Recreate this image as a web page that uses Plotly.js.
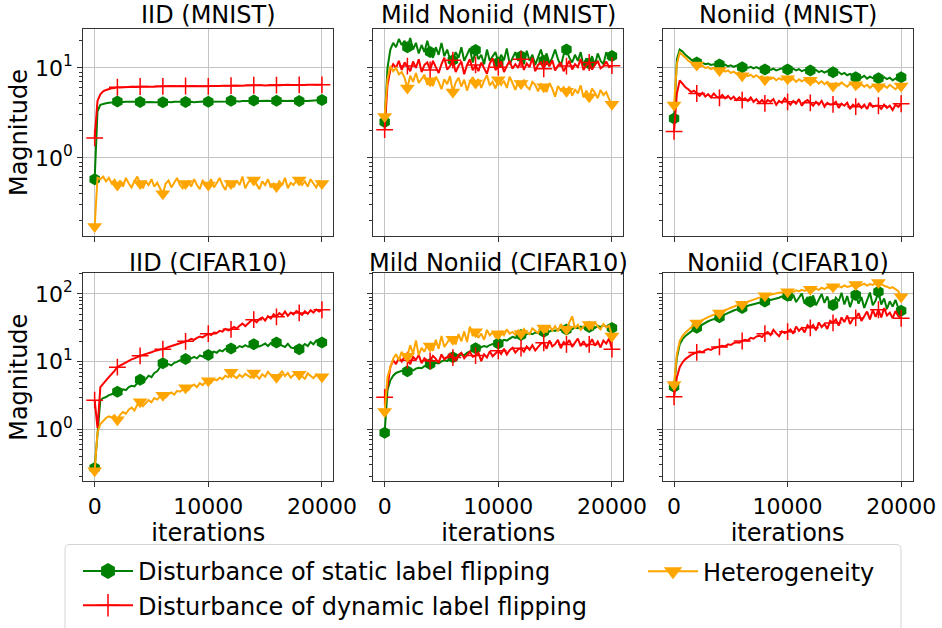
<!DOCTYPE html>
<html><head><meta charset="utf-8">
<script src="https://cdn.plot.ly/plotly-3.0.1.min.js"></script>
<style>html,body{margin:0;padding:0;background:#fff}#chart{width:942px;height:628px}</style>
</head><body><div id="chart"></div>
<script>
const iterations = [
0,250,500,750,1000,1250,1500,1750,
2000,2250,2500,2750,3000,3250,3500,3750,
4000,4250,4500,4750,5000,5250,5500,5750,
6000,6250,6500,6750,7000,7250,7500,7750,
8000,8250,8500,8750,9000,9250,9500,9750,
10000,10250,10500,10750,11000,11250,11500,11750,
12000,12250,12500,12750,13000,13250,13500,13750,
14000,14250,14500,14750,15000,15250,15500,15750,
16000,16250,16500,16750,17000,17250,17500,17750,
18000,18250,18500,18750,19000,19250,19500,19750,
20000];

const panelTitles = ['IID (MNIST)','Mild Noniid (MNIST)','Noniid (MNIST)','IID (CIFAR10)','Mild Noniid (CIFAR10)','Noniid (CIFAR10)'];
const seriesNames = ['Disturbance of static label flipping','Disturbance of dynamic label flipping','Heterogeneity'];
const xTickVals = [0,10000,20000];
const xTickText = ['0','10000','20000'];
const yTickVals = [1,10,100];
const yTickText = ['10<sup>0</sup>','10<sup>1</sup>','10<sup>2</sup>'];

// ---- IID (MNIST)
const iidMnistStatic = [
0.58,3.3,3.9,4.0,4.05,4.1,4.12,4.15,
4.25,4.2,4.18,4.22,4.2,4.16,4.2,4.22,
4.18,4.2,4.15,4.18,4.2,4.17,4.15,4.18,
4.16,4.2,4.18,4.15,4.2,4.22,4.18,4.2,
4.18,4.22,4.2,4.17,4.2,4.22,4.25,4.2,
4.2,4.23,4.2,4.22,4.25,4.22,4.2,4.25,
4.32,4.28,4.3,4.25,4.28,4.3,4.26,4.3,
4.35,4.3,4.28,4.32,4.3,4.33,4.3,4.28,
4.33,4.3,4.32,4.28,4.3,4.33,4.3,4.28,
4.3,4.32,4.28,4.3,4.33,4.35,4.32,4.36,
4.4];
const iidMnistDynamic = [
1.67,4.3,5.1,5.5,5.7,5.85,5.95,6.0,
6.1,6.05,6.1,6.15,6.12,6.18,6.15,6.2,
6.22,6.2,6.18,6.22,6.25,6.2,6.22,6.25,
6.25,6.28,6.22,6.25,6.3,6.26,6.24,6.28,
6.3,6.26,6.3,6.28,6.25,6.3,6.32,6.28,
6.25,6.3,6.28,6.32,6.3,6.35,6.32,6.3,
6.35,6.38,6.35,6.4,6.36,6.4,6.42,6.38,
6.42,6.4,6.45,6.42,6.4,6.44,6.42,6.45,
6.45,6.42,6.48,6.45,6.5,6.46,6.44,6.48,
6.5,6.48,6.45,6.5,6.52,6.48,6.5,6.52,
6.5];
const iidMnistHetero = [
0.173,0.6,0.58,0.62,0.55,0.6,0.52,0.57,
0.5,0.56,0.48,0.6,0.52,0.47,0.55,0.62,
0.52,0.46,0.55,0.5,0.58,0.48,0.53,0.45,
0.4,0.52,0.56,0.47,0.54,0.6,0.5,0.46,
0.52,0.55,0.48,0.58,0.5,0.45,0.56,0.52,
0.5,0.58,0.47,0.53,0.6,0.5,0.44,0.55,
0.52,0.48,0.56,0.5,0.62,0.46,0.53,0.58,
0.57,0.5,0.45,0.55,0.5,0.58,0.47,0.52,
0.48,0.55,0.5,0.6,0.46,0.53,0.5,0.56,
0.57,0.5,0.55,0.48,0.58,0.52,0.47,0.55,
0.52];

// ---- Mild Noniid (MNIST)
const mildMnistStatic = [
2.5,10,16,19,17,21,18,20,
17,21.5,16,19,14.5,18,15,20,
15,13,17,14,19,13.5,16,12.5,
12.2,15,13,17,12,14,16.5,11.5,
15.8,12.5,14,11,16,12,13.5,15,
11.5,14,12.2,16.5,11,13,15,12,
13.5,11,15.5,12,14,10.8,13,16,
12,14.5,11.2,13,16,12.5,10.5,14,
16,13,11.5,14,12,15,10.5,12.8,
11.2,13.5,10.8,14.5,12,11,15,12.5,
13.6];
const mildMnistDynamic = [
2.06,6.5,9.5,11,10,12,9.5,11.5,
10.5,9.2,11.8,10,12.5,9,10.8,11.5,
9.5,12,10.2,8.8,11,13,9.6,10.5,
12.2,9,10.5,11.8,8.5,10.8,12.5,9.4,
10.8,9.2,11.5,10,8.6,11.2,12.8,9.5,
10.2,11.8,9,10.5,12,9.8,11,10,
12.5,9.5,11.2,10.2,13,9.2,10.8,11.5,
9.8,11.8,10.4,12.2,9.4,10.6,11.5,9.2,
10.5,12,9.6,11,10.2,12.6,9.5,10.8,
11.5,9.6,10.8,12,9.9,10.5,11.8,10.2,
10.6];
const mildMnistHetero = [
2.89,7.5,10.5,9.2,10,8.5,9,7.8,
6.0,8.2,7,8.8,6.8,7.6,8.4,6.5,
7.2,6.3,8,7,5.8,7.5,6.6,8.1,
5.4,6.9,7.8,6.2,7.4,5.6,7,7.9,
6.8,7.5,6,7.2,8.3,6.4,7,5.9,
7.4,6.5,7.2,6,8,6.8,5.7,7.1,
6.7,7.3,6.2,5.8,7,6.5,5.5,6.6,
6.2,5.4,6.8,5.9,4.8,6.3,5.6,6.1,
5.5,6.2,4.9,5.8,5.2,6.4,4.7,5.6,
4.8,5.9,5.3,4.6,5.7,5,5.4,4.5,
3.95];

// ---- Noniid (MNIST)
const noniidMnistStatic = [
2.74,12.5,16,15.2,14,13,12.4,12,
11.5,11.2,11.4,11,11.2,10.8,11,10.7,
10.9,10.6,10.9,10.4,10.7,10.3,10.6,10.2,
10.2,10.5,10,10.3,9.9,10.2,9.8,10.1,
9.6,9.9,9.5,9.8,9.4,9.7,9.9,9.5,
9.6,9.3,9.8,9.4,9.7,9.2,9.5,9.3,
9.35,9.1,9.5,9,9.3,8.9,9.2,8.8,
8.97,8.7,9,8.5,8.8,8.3,8.6,8.2,
7.9,8.3,7.8,8.2,7.6,8,7.7,8.1,
7.7,7.4,7.9,7.5,7.8,7.3,7.6,8,
7.9];
const noniidMnistDynamic = [
1.97,5.2,7.27,6.7,6.1,5.8,5.4,5.6,
5.2,4.9,5.3,4.8,5.1,4.7,5.2,4.8,
4.66,5.0,4.6,4.9,4.5,4.8,4.4,4.7,
4.38,4.6,4.3,4.7,4.2,4.5,4.1,4.4,
4.03,4.4,4.2,4.5,3.9,4.3,4.1,4.6,
4.2,3.9,4.3,4.0,4.5,3.8,4.2,4.4,
4.1,3.8,4.2,3.9,4.3,3.7,4.1,3.9,
3.94,4.2,3.6,4.0,3.8,4.1,3.5,3.9,
3.71,4.0,3.6,3.9,3.5,4.1,3.7,3.8,
3.8,3.5,3.9,3.6,3.8,3.4,3.9,3.7,
4.0];
const noniidMnistHetero = [
3.87,11,14.9,14,13,12,11.5,11,
10.8,10.3,10.6,10,10.2,9.7,10,9.5,
9.35,9.6,9.1,9.4,8.8,9.1,8.6,8.9,
8.2,8.6,8.1,8.4,7.9,8.3,7.8,8.1,
7.4,7.9,7.5,7.8,7.3,7.7,7.4,7.8,
7.6,7.2,7.6,7,7.5,7.1,7.4,6.9,
7.3,6.9,7.2,6.7,7.1,6.6,7,6.5,
6.3,6.8,6.4,6.9,6.5,6.2,6.7,6.4,
6.5,6.1,6.6,6.2,6.5,6,6.4,6.1,
6.2,5.9,6.4,6,6.5,6.1,5.8,6.2,
6.3];

// ---- IID (CIFAR10)
const iidCifarStatic = [
0.268,1.0,2.7,2.9,3.0,3.2,3.3,3.5,
3.6,3.5,3.9,3.8,4.2,4.4,4.3,4.8,
5.4,4.9,5.6,6.2,5.9,6.8,7.2,8.4,
9.5,8.7,9.2,8.8,9.6,9.9,10.5,10.2,
10.9,10.6,11.3,11.8,11.2,12.4,11.9,12.8,
12.5,13.2,14.1,13.5,14.8,14.2,15.5,15,
15.7,16.2,15.8,17,16.4,17.5,16.6,17.2,
18.1,17.4,16.8,17.6,18.5,17,18.8,17.8,
19.2,18,17.2,16.5,18.4,16.2,15.8,16.8,
15.3,16.5,18.2,17,19.5,18,20.5,18.5,
19.2];
const iidCifarDynamic = [
2.7,1.05,4.2,4.8,5.3,5.9,6.5,7.3,
8.3,8.8,9.3,9.8,10.3,10.8,11.2,11.8,
12.2,12.6,13.1,13.5,13.8,14.3,14.6,15,
15.3,15.8,16.5,17,17.8,18.2,19,19.5,
20,20.5,21.8,21,22.5,23.5,22.8,24.5,
25.9,24.8,27,26.5,28.5,27.8,30.5,29,
30,32.5,31,34,36.5,33.5,37,40,
41.7,38,42.5,45,40.5,47,43.5,50,
46,52,48.5,55,47.5,53,50,56,
52.5,49,55.5,51,57.5,53,59,55,
58.5];
const iidCifarHetero = [
0.245,0.9,1.2,1.35,1.47,1.55,1.5,1.62,
1.38,1.65,1.8,1.7,1.95,2.1,1.9,2.3,
2.56,2.2,2.45,2.7,2.5,2.9,2.75,3.05,
3.2,2.95,3.3,3.5,3.25,3.7,3.6,3.9,
4.1,3.8,4.3,4.6,4.2,4.8,4.5,5.0,
5.2,4.9,5.5,5.3,5.8,5.5,6.2,5.9,
7.0,6.1,5.7,6.4,5.9,6.6,6.2,5.8,
6.8,6.2,5.6,6.5,6.0,7.1,6.3,5.7,
5.9,6.6,7.2,6.1,6.8,5.8,6.4,6.9,
6.5,6.0,5.6,6.7,6.2,5.7,6.4,5.9,
6.0];

// ---- Mild Noniid (CIFAR10)
const mildCifarStatic = [
0.89,3.8,5.3,6.2,6.8,7.0,7.3,7.1,
7.2,7.5,7.4,7.9,8.1,8.0,8.6,8.9,
9.2,9.0,9.6,9.4,10.1,10.5,10.2,11.0,
11.6,11.3,12.2,12.8,12.4,13.5,14.2,14.8,
15.8,15.2,16.4,17.0,16.5,17.6,18.2,17.8,
18.5,19.8,21,20.5,22,23.2,22.5,24,
24.7,24,25.5,26.2,25.4,27,26.5,27.5,
27.7,28.5,27.8,29.2,28.4,30,29.5,30.5,
29.9,31,30.2,32,31.2,33,31.8,32.5,
32.4,33.5,31.5,33.8,32.5,34.5,33,32,
31.5];
const mildCifarDynamic = [
2.97,4.3,8.3,10.5,9.2,11.5,10,12,
10.5,9.2,11.8,10.6,12.5,9.5,11.2,10.4,
10.3,12.2,11,9.6,12.8,10.8,11.6,13,
11.5,10.4,12.6,13.5,11.2,12.4,14,11.8,
12.3,13.6,10.2,12.8,11.5,14.2,12,13.2,
14.5,13,15.5,12.8,14.8,16,13.6,15.2,
15.8,14,16.8,15,17.5,14.6,16.2,18.5,
19,15.5,20.5,16.8,18.2,21,15.8,19.5,
18,20.8,16.5,19.2,22,17,20,16.8,
18,21.5,17.2,19.8,16.2,20.5,18.5,22,
15.3];
const mildCifarHetero = [
1.83,5.9,8.3,11,12.9,10.5,14,11.5,
12,17.5,13,20.5,12.5,16,14,18,
17,14.5,21,15.5,24,16.5,19,22.5,
21.4,18,25.5,20,28,19.5,33,24,
27.7,22.5,26,21,29.5,24.5,27,23,
25.9,28,24.5,30,26,27.5,25,29,
26,30.5,27,25.5,31,28.5,26.5,32,
31.5,27,34,29,33.5,28,36,30.5,
30,38,46.8,31,35,29.5,33,37,
35.4,31,38.5,33,30,36,32,34,
23.9];

// ---- Noniid (CIFAR10)
const noniidCifarStatic = [
4.24,11.5,18,21.5,24,26,28,30,
31.6,33.5,35.5,37.5,39.5,41,42.5,44,
45.2,47.5,50,52.5,55,57,59,60.5,
62,64.5,67,69,71,73,75,76,
77.3,79,81,83,85,88,92,85,
94,80,98,76,88,102,72,90,
77,95,68,85,100,74,92,66,
69,88,78,104,70,93,64,86,
96.7,72,90,62,84,105,68,80,
108,70,86,60,78,65,82,62,
56.5];
const noniidCifarDynamic = [
3.03,5.9,8.3,9.8,10.9,11.8,12.6,13.2,
13.7,14.2,13.8,14.8,15.3,14.9,15.8,16.2,
16.5,17.2,16.8,18,17.6,18.8,19.4,19,
20.2,21,20.5,22.5,21.8,23.5,24.2,23.2,
25.9,27.5,24.8,29.5,26.2,23.8,28,26.5,
27.7,30,26,33,28.5,31.5,27,34.5,
31.6,35,29,38,32.5,36,30.5,40,
37.4,42,34,45,38.5,48,36,43,
44.3,52,40,48,55,42,58,46,
58.5,45,62,48,53,44,56,47,
43.7];
const noniidCifarHetero = [
4.58,12.9,20.2,24,26.8,29.5,32,35,
37.4,39.5,41.5,43.5,45.5,47.5,49.5,51,
52.3,55,57.5,60,62.5,65,67.5,69,
70.6,74,77,80,83,86,89,92,
94.4,96,98.5,100,102,104,105.5,107,
108,110,107,113,109,115,111,116,
117,112,120,115,124,118,126,121,
128,122,131,125,134,127,130,136,
138,130,135,142,133,140,136,145,
148,138,132,128,122,126,118,110,
91];

const panels = [
  [iidMnistStatic, iidMnistDynamic, iidMnistHetero],
  [mildMnistStatic, mildMnistDynamic, mildMnistHetero],
  [noniidMnistStatic, noniidMnistDynamic, noniidMnistHetero],
  [iidCifarStatic, iidCifarDynamic, iidCifarHetero],
  [mildCifarStatic, mildCifarDynamic, mildCifarHetero],
  [noniidCifarStatic, noniidCifarDynamic, noniidCifarHetero]
];

// ---- styling
const FONT = 'DejaVu Sans';
const colors = ['#008000', '#ff0000', '#ffa500'];
const symbols = ['hexagon', 'cross-thin-open', 'triangle-down'];
const markerSizes = [12, 12, 13];
const markEvery = 8;
const W = 942, H = 628;
const xDomains = [[83.3/W, 333.3/W], [373.3/W, 623.3/W], [662.7/W, 912.5/W]];
const yDomains = [[1 - 240.3/H, 1 - 29/H], [1 - 489/H, 1 - 277.7/H]];
const yRanges = [[-0.873, 1.438], [-0.767, 2.306]];

const traces = [];
panels.forEach((series, k) => {
  const ax = k === 0 ? '' : String(k + 1);
  series.forEach((ys, s) => {
    const mc = ys.map((_, i) => i % markEvery === 0 ? colors[s] : 'rgba(0,0,0,0)');
    const ms = ys.map((_, i) => i % markEvery === 0 ? markerSizes[s] : 17);
    traces.push({
      type: 'scatter', mode: 'lines+markers',
      x: iterations.slice(0, ys.length), y: ys,
      xaxis: 'x' + ax, yaxis: 'y' + ax,
      name: seriesNames[s],
      showlegend: k === 0,
      legend: s === 2 ? 'legend2' : 'legend',
      line: {color: colors[s], width: 2},
      marker: {symbol: symbols[s], size: ms, color: mc, opacity: 1,
               line: {width: s === 1 ? 1.5 : 0, color: mc}},
      hoverinfo: 'skip'
    });
  });
});

const legendBase = {
  xanchor: 'left', yanchor: 'top', orientation: 'v',
  font: {family: FONT, size: 24, color: '#000'}, bgcolor: 'rgba(0,0,0,0)',
  borderwidth: 0, itemwidth: 50, tracegroupgap: 0
};
const layout = {
  width: W, height: H,
  margin: {l: 0, r: 0, t: 0, b: 0},
  paper_bgcolor: '#fff', plot_bgcolor: '#fff',
  font: {family: FONT, color: '#000', size: 22},
  annotations: [],
  shapes: [],
  legend: Object.assign({x: 78/W, y: 1 - 558/H}, legendBase),
  legend2: Object.assign({x: 643/W, y: 1 - 558/H}, legendBase)
};

for (let k = 0; k < 6; k++) {
  const row = Math.floor(k / 3), col = k % 3;
  const ax = k === 0 ? '' : String(k + 1);
  const xa = {
    domain: xDomains[col], anchor: 'y' + ax,
    range: [-1000, 21000],
    tickmode: 'array', tickvals: xTickVals, ticktext: xTickText,
    showticklabels: row === 1,
    ticks: 'outside', ticklen: 5, tickwidth: 1, tickcolor: '#333',
    showgrid: true, gridcolor: '#c4c4c4', gridwidth: 1,
    zeroline: false, showline: true, mirror: true, linecolor: '#333', linewidth: 1,
    tickfont: {size: 22, family: FONT, color: '#000'}
  };
  if (row === 1) xa.title = {text: 'iterations', standoff: 2, font: {size: 24, family: FONT, color: '#000'}};
  layout['xaxis' + ax] = xa;
  const ya = {
    type: 'log', domain: yDomains[row], anchor: 'x' + ax,
    range: yRanges[row],
    tickmode: 'array', tickvals: yTickVals, ticktext: yTickText,
    showticklabels: col === 0,
    ticks: 'outside', ticklen: 5, tickwidth: 1, tickcolor: '#333',
    minor: {ticks: 'outside', ticklen: 3, tickwidth: 1, tickcolor: '#333', dtick: 'D1', showgrid: false},
    showgrid: true, gridcolor: '#c4c4c4', gridwidth: 1,
    zeroline: false, showline: true, mirror: true, linecolor: '#333', linewidth: 1,
    tickfont: {size: 22, family: FONT, color: '#000'}
  };
  if (col === 0) ya.title = {text: 'Magnitude', standoff: 0, font: {size: 24, family: FONT, color: '#000'}};
  layout['yaxis' + ax] = ya;
  layout.annotations.push({
    text: panelTitles[k], xref: 'paper', yref: 'paper',
    x: (xDomains[col][0] + xDomains[col][1]) / 2, y: yDomains[row][1],
    xanchor: 'center', yanchor: 'bottom', showarrow: false, yshift: row === 0 ? -2 : -6,
    font: {size: 24, family: FONT, color: '#000'}
  });
}

// legend frame
(function () {
  const x0 = 65/W, x1 = 901/W, yt = 1 - 553.3/H, yb = -0.05;
  const dx = 5/W, dy = 5/H;
  layout.shapes.push({
    type: 'path', xref: 'paper', yref: 'paper',
    path: `M${x0},${yb} L${x0},${yt - dy} Q${x0},${yt} ${x0 + dx},${yt} L${x1 - dx},${yt} Q${x1},${yt} ${x1},${yt - dy} L${x1},${yb}`,
    line: {color: '#d4d4d4', width: 1}
  });
})();

Plotly.newPlot('chart', traces, layout, {staticPlot: true, displayModeBar: false});
</script>
</body></html>
